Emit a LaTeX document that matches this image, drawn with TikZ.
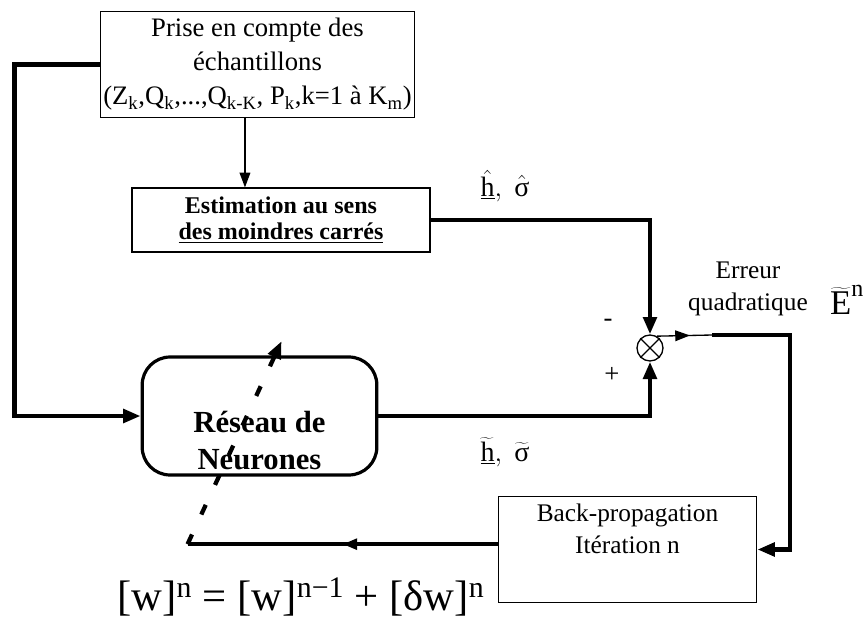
\documentclass[tikz,border=0pt]{standalone}
\usepackage{fontspec}
\setmainfont{Liberation Serif}
\usetikzlibrary{arrows.meta,decorations.markings}

\begin{document}
\begin{tikzpicture}[x=0.75pt,y=-0.75pt]
  \tikzset{
    blk/.style={draw,line width=0.9pt,inner sep=0pt,align=center},
    rnd/.style={blk,line width=2.4pt,rounded corners=21pt},
    thk/.style={line width=3.2pt},
    ar/.style={line width=1pt,-{Triangle[length=11pt,width=8pt]}},
    tar/.style={thk,-{Triangle[length=13pt,width=10pt]}},
    midar/.style={postaction={decorate},decoration={markings,
      mark=at position #1 with {\arrow{Triangle[length=11pt,width=8pt]}}}},
    lbl/.style={inner sep=0pt,font=\fontsize{20}{24}\selectfont}
  }
  \useasboundingbox (0,0) rectangle (864,625);

  \node[blk,minimum width=236pt,minimum height=79pt,font=\fontsize{20}{25.5}\selectfont]
    (prise) at (257.5,64.5) {Prise en compte des\\échantillons\\
    (Z\textsubscript{k},Q\textsubscript{k},...,Q\textsubscript{k-K}, P\textsubscript{k},k=1 à K\textsubscript{m})};
  \node[blk,minimum width=223.5pt,minimum height=48pt,font=\bfseries\fontsize{18}{19.5}\selectfont]
    (estim) at (281,220) {Estimation au sens\\\underline{des moindres carrés}};
  \node[rnd,minimum width=176pt,minimum height=88.5pt,font=\bfseries\fontsize{23}{28}\selectfont]
    (reseau) at (259.5,416) {\rule{0pt}{2.3em}Réseau de\\Neurones};
  \node[draw,circle,line width=1pt,minimum size=19.5pt,inner sep=0pt] (circ) at (650,348) {};
  \node[blk,minimum width=194pt,minimum height=79pt,font=\fontsize{19}{24}\selectfont]
    (bp) at (627.5,549.5) {Back-propagation\\Itération n\\\strut};

  \node[lbl] (moins) at (608,323) {-};
  \node[lbl] (plus) at (612,375) {+};
  \node[lbl,font=\fontsize{21}{24}\selectfont] (hchap) at (505,186)
    {$\underline{\hat{\hbox{h}}},\;\hat{\hbox{σ}}$};
  \node[lbl,font=\fontsize{21}{24}\selectfont] (htild) at (505,452)
    {$\underline{\widetilde{\hbox{h}}},\;\widetilde{\hbox{σ}}$};
  \node[lbl,align=center,font=\fontsize{19}{24}\selectfont] (err) at (748,289)
    {Erreur\\quadratique};
  \node[lbl,font=\fontsize{26}{30}\selectfont] (errE) at (847,300)
    {$\widetilde{\hbox{E}}^{\hbox{\fontsize{18}{20}\selectfont n}}$};
  \node[lbl,font=\fontsize{32}{36}\selectfont] (maj) at (301,597)
    {[w]\textsuperscript{n} = [w]\textsuperscript{n−1} + [δw]\textsuperscript{n}};

  \coordinate (e1) at (712,335);
  \coordinate (ecoin) at (790,335);

  \draw[line width=1pt] (circ.45) -- (circ.225) (circ.135) -- (circ.315);
  \draw[ar] ([xshift=-9.4pt]prise.south) -- ([xshift=-9.4pt]prise.south |- estim.north);
  \draw[tar] (prise.west) -- ++(-85,0) |- (reseau.west);
  \draw[tar] (estim.east) -| (circ.north);
  \draw[tar] (reseau.east) -| (circ.south);
  \draw[line width=1pt,midar=0.6] (circ.60) -- (e1);
  \draw[tar] (e1) -- (ecoin) |- (bp.east);
  \draw[thk,midar=0.5] ([yshift=4pt]bp.west) -- ++(-310,0) coordinate (wcoin);
  \draw[thk,dash pattern=on 8pt off 16.5pt,-{Triangle[length=13pt,width=10pt]}]
    (wcoin) -- ++(94,-203);
\end{tikzpicture}
\end{document}
